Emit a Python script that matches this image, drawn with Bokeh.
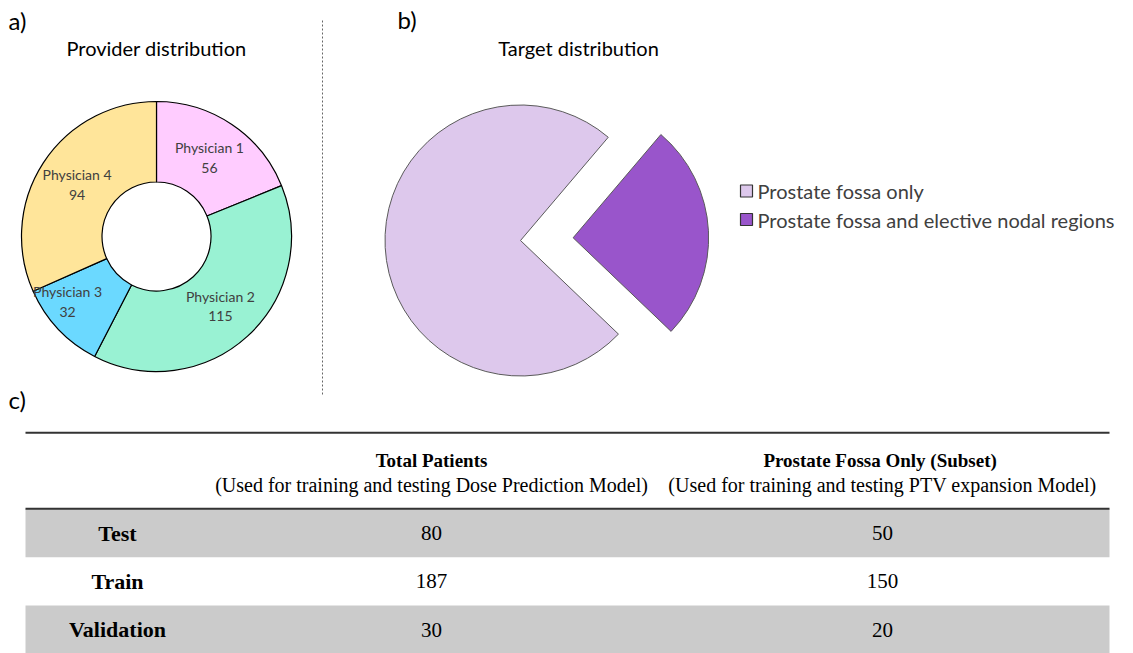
import math
from bokeh.plotting import figure
from bokeh.models import Range1d, ColumnDataSource
from bokeh.core.properties import value
from bokeh.embed import file_html
from bokeh.resources import INLINE

# ---------------- data ----------------
physicians = ["Physician 1", "Physician 2", "Physician 3", "Physician 4"]
physician_counts = [56, 115, 32, 94]
physician_colors = ["#FFCCFF", "#99F2D3", "#6BD9FF", "#FFE59A"]

target_labels = ["Prostate fossa only", "Prostate fossa and elective nodal regions"]
target_counts = [220, 77]
target_colors = ["#DDC8EC", "#9955CB"]

table_rows = ["Test", "Train", "Validation"]
total_patients = [80, 187, 30]
fossa_only = [50, 150, 20]
col_titles = ["Total Patients", "Prostate Fossa Only  (Subset)"]
col_subtitles = ["(Used for training and testing Dose Prediction Model)",
                 "(Used for training and testing PTV expansion Model)"]

# ---------------- layout ----------------
W, H = 1133, 653
IMG_H = 653


def Y(img_y):
    return IMG_H - img_y


SANS = value("Lato")
SERIF = value("Liberation Serif")
TXT = "#404040"

p = figure(width=W, height=H, x_range=Range1d(0, W), y_range=Range1d(IMG_H - H, IMG_H),
           x_axis_type=None, y_axis_type=None, output_backend="svg", toolbar_location=None,
           min_border=0)
p.grid.visible = False
p.outline_line_color = None

# panel labels and titles
p.text(x=[8, 397, 8], y=[Y(20), Y(19), Y(399)], text=["a)", "b)", "c)"], text_font=SANS,
       text_font_size="24px", text_baseline="middle", text_align="left", text_color="black")
p.text(x=[156, 578], y=[Y(47), Y(47)], text=["Provider distribution", "Target distribution"],
       text_font=SANS, text_font_size="20px", text_baseline="middle", text_align="center",
       text_color="black")

# dashed separator
p.segment(x0=[322], y0=[Y(20)], x1=[322], y1=[Y(395)], line_color="#666666", line_width=1,
          line_dash="2 2")

# ---------------- donut (a) ----------------
CX, CY = 156, Y(236)
R_OUT, R_IN = 135, 54.5
tot = sum(physician_counts)
starts, ends, lx, ly = [], [], [], []
label_dx = [0, 0, -20, 0]
cum = 0
for i, c in enumerate(physician_counts):
    a0 = math.pi / 2 - 2 * math.pi * cum / tot
    cum += c
    a1 = math.pi / 2 - 2 * math.pi * cum / tot
    starts.append(a1 % (2 * math.pi))
    ends.append(a0 % (2 * math.pi))
    mid = (a0 + a1) / 2
    rm = (R_OUT + R_IN) / 2
    lx.append(CX + rm * math.cos(mid) + label_dx[i])
    ly.append(CY + rm * math.sin(mid))
src = ColumnDataSource(dict(start=starts, end=ends, color=physician_colors))
p.annular_wedge(x=CX, y=CY, inner_radius=R_IN, outer_radius=R_OUT, start_angle="start",
                end_angle="end", direction="anticlock", fill_color="color", line_color="black",
                line_width=1.2, source=src)
p.text(x=lx, y=[v + 10 for v in ly], text=physicians, text_font=SANS, text_font_size="14px",
       text_align="center", text_baseline="middle", text_color=TXT)
p.text(x=lx, y=[v - 10 for v in ly], text=[str(c) for c in physician_counts], text_font=SANS,
       text_font_size="14px", text_align="center", text_baseline="middle", text_color=TXT)

# ---------------- exploded pie (b) ----------------
PX, PY = 520, Y(240)
R_PIE = 135.5
THETA0 = math.radians(-43.7)
EXPLODE = [0, 52.7]
tot2 = sum(target_counts)
cum = 0
xs, ys, st2, en2 = [], [], [], []
for i, c in enumerate(target_counts):
    a0 = THETA0 - 2 * math.pi * cum / tot2
    cum += c
    a1 = THETA0 - 2 * math.pi * cum / tot2
    mid = (a0 + a1) / 2
    xs.append(PX + EXPLODE[i] * math.cos(mid))
    ys.append(PY + EXPLODE[i] * math.sin(mid))
    st2.append(a1 % (2 * math.pi))
    en2.append(a0 % (2 * math.pi))
src2 = ColumnDataSource(dict(x=xs, y=ys, start=st2, end=en2, color=target_colors))
p.wedge(x="x", y="y", radius=R_PIE, start_angle="start", end_angle="end", direction="anticlock",
        fill_color="color", line_color="#5A5A5A", line_width=1, source=src2)

# legend
LEG_Y = [Y(190.5), Y(219)]
p.rect(x=[746, 746], y=LEG_Y, width=12, height=12, fill_color=target_colors,
       line_color="#333333", line_width=1.2)
p.text(x=[757, 757], y=LEG_Y, text=target_labels, text_font=SANS, text_font_size="20px",
       text_align="left", text_baseline="middle", text_color=TXT)

# ---------------- table (c) ----------------
TL, TR = 25, 1109
COL_X = [431, 882]
LABEL_X = 117
ROW_TOP, ROW_H = 508.5, 48.2
row_c = [Y(ROW_TOP + (i + 0.5) * ROW_H) for i in range(len(table_rows))]
band_idx = [i for i in range(len(table_rows)) if i % 2 == 0]
p.quad(left=[TL] * len(band_idx), right=[TR] * len(band_idx),
       top=[Y(ROW_TOP + i * ROW_H) for i in band_idx],
       bottom=[Y(ROW_TOP + (i + 1) * ROW_H) for i in band_idx],
       fill_color="#CBCBCB", line_color=None)
p.segment(x0=[TL, TL], y0=[Y(432.3), Y(508.3)], x1=[TR, TR], y1=[Y(432.3), Y(508.3)],
          line_color="#333333", line_width=2)

p.text(x=COL_X, y=[Y(460)] * 2, text=col_titles, text_font=SERIF, text_font_style="bold",
       text_font_size="19px", text_align="center", text_baseline="middle", text_color="black")
p.text(x=COL_X, y=[Y(484)] * 2, text=col_subtitles, text_font=SERIF, text_font_size="20px",
       text_align="center", text_baseline="middle", text_color="black")

p.text(x=[LABEL_X] * 3, y=row_c, text=table_rows, text_font=SERIF, text_font_style="bold",
       text_font_size="22px", text_align="center", text_baseline="middle", text_color="black")
p.text(x=[COL_X[0]] * 3, y=row_c, text=[str(v) for v in total_patients], text_font=SERIF,
       text_font_size="21px", text_align="center", text_baseline="middle", text_color="black")
p.text(x=[COL_X[1]] * 3, y=row_c, text=[str(v) for v in fossa_only], text_font=SERIF,
       text_font_size="21px", text_align="center", text_baseline="middle", text_color="black")

open("out.html", "w").write(file_html(p, INLINE))
